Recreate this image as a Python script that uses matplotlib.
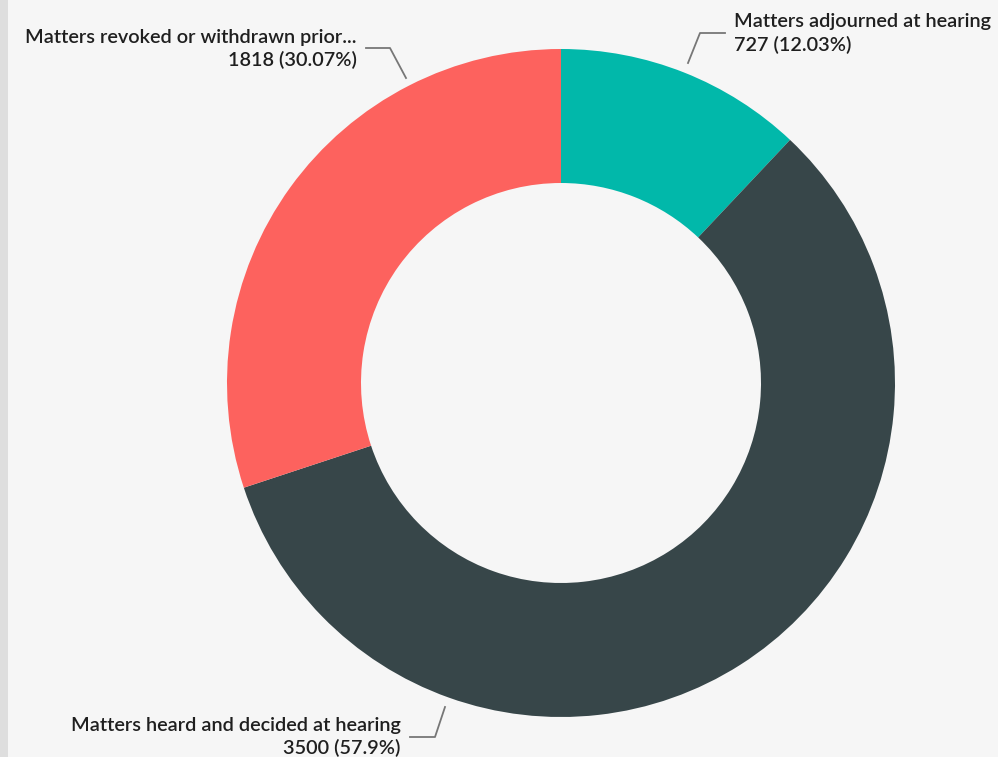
import matplotlib.pyplot as plt
from matplotlib.patches import Rectangle

labels = ["Matters adjourned at hearing",
          "Matters heard and decided at hearing",
          "Matters revoked or withdrawn prior..."]
values = [727, 3500, 1818]
colors = ["#01b8aa", "#374649", "#fd625e"]

W, H = 998, 757
fig = plt.figure(figsize=(W / 100, H / 100), dpi=100)
fig.patch.set_facecolor("#f6f6f6")
ax = fig.add_axes([0, 0, 1, 1])
ax.set_xlim(0, W)
ax.set_ylim(0, H)
ax.set_facecolor("#f6f6f6")
ax.axis("off")

# left gray strip
ax.add_patch(Rectangle((0, 0), 8.5, H, color="#dedede", lw=0))

cx, cy = 561, H - 383
ax.pie(values, colors=colors, startangle=90, counterclock=False,
       center=(cx, cy), radius=334,
       wedgeprops=dict(width=134, edgecolor="none"))
ax.set_xlim(0, W)
ax.set_ylim(0, H)
ax.set_aspect("auto")

total = sum(values)
texts = [f"{v} ({round(v / total * 100, 2):g}%)" for v in values]

fnt = dict(family="Lato", fontsize=14.3, weight="semibold", color="#1f1f1f")
lc = "#777777"

def y(p):
    return H - p

# adjourned (right top)
ax.plot([688, 700, 725], [y(63), y(33), y(33)], color=lc, lw=1.3)
ax.text(734, y(22), labels[0], ha="left", va="center", **fnt)
ax.text(734, y(45), texts[0], ha="left", va="center", **fnt)

# revoked (left top)
ax.plot([366, 390, 406], [y(48), y(48), y(78)], color=lc, lw=1.3)
ax.text(357, y(37), labels[2], ha="right", va="center", **fnt)
ax.text(357, y(60), texts[2], ha="right", va="center", **fnt)

# heard (bottom)
ax.plot([445, 435, 410], [y(707), y(737), y(737)], color=lc, lw=1.3)
ax.text(401, y(726), labels[1], ha="right", va="center", **fnt)
ax.text(401, y(748), texts[1], ha="right", va="center", **fnt)

fig.savefig("out.png", dpi=100, facecolor=fig.get_facecolor())
